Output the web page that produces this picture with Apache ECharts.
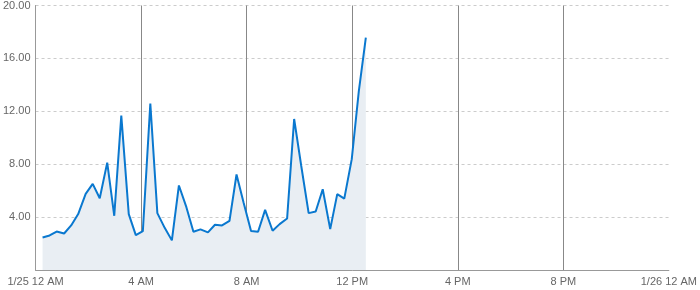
<!DOCTYPE html>
<html>
<head>
<meta charset="utf-8">
<script src="https://cdn.jsdelivr.net/npm/echarts@6/dist/echarts.min.js"></script>
<style>html,body{margin:0;padding:0;background:#fff}#c{width:700px;height:290px}</style>
</head>
<body>
<div id="c"></div>
<script>
var times = ["0:16","0:32","0:48","1:05","1:21","1:37","1:54","2:10","2:26","2:43",
  "2:59","3:15","3:32","3:48","4:04","4:21","4:37","4:54","5:10","5:26",
  "5:43","5:59","6:15","6:32","6:48","7:04","7:21","7:37","7:53","8:10",
  "8:26","8:42","8:59","9:15","9:32","9:48","10:04","10:21","10:37","10:53",
  "11:10","11:26","11:42","11:59","12:15","12:31"];
var values = [2.46,2.61,2.91,2.76,3.37,4.23,5.76,6.51,5.43,8.12,
  4.10,11.67,4.23,2.64,2.94,12.59,4.30,3.17,2.24,6.39,
  4.75,2.89,3.07,2.84,3.42,3.37,3.72,7.22,5.10,2.94,
  2.89,4.55,2.97,3.47,3.89,11.42,7.90,4.30,4.42,6.11,
  3.09,5.74,5.40,8.38,13.5,17.58];
var xTickLabels = {0:"1/25 12 AM",4:"4 AM",8:"8 AM",12:"12 PM",16:"4 PM",20:"8 PM",24:"1/26 12 AM"};

function toHours(t){var p=t.split(":");return +p[0]+(+p[1])/60;}
var data = times.map(function(t,i){return [toHours(t), values[i]];});

var chart = echarts.init(document.getElementById('c'));
chart.setOption({
  animation:false,
  grid:{left:34,right:28,top:5,bottom:20},
  xAxis:{
    type:'value',min:0,max:24,interval:4,
    axisLine:{show:true,lineStyle:{color:'#999',width:1}},
    axisTick:{show:false},
    axisLabel:{margin:6,color:'#666',fontSize:11,fontFamily:'Liberation Sans, Arial, sans-serif',
      formatter:function(v){return xTickLabels[v]||'';}},
    splitLine:{show:true,showMinLine:false,showMaxLine:false,lineStyle:{color:'#888',width:1,type:'solid'}}
  },
  yAxis:{
    type:'value',min:0,max:20,interval:4,
    axisLine:{show:true,lineStyle:{color:'#999',width:1}},
    axisTick:{show:false},
    axisLabel:{margin:5,color:'#666',fontSize:11,fontFamily:'Liberation Sans, Arial, sans-serif',showMinLabel:false,
      formatter:function(v){return v.toFixed(2);}},
    splitLine:{show:true,showMinLine:false,lineStyle:{color:'#ccc',width:1,type:[3,3]}}
  },
  series:[{
    type:'line',data:data,showSymbol:false,symbol:'none',
    lineStyle:{color:'#0a78cf',width:2},
    areaStyle:{color:'#e9eef3',opacity:1},
    z:3
  }]
});
</script>
</body>
</html>
